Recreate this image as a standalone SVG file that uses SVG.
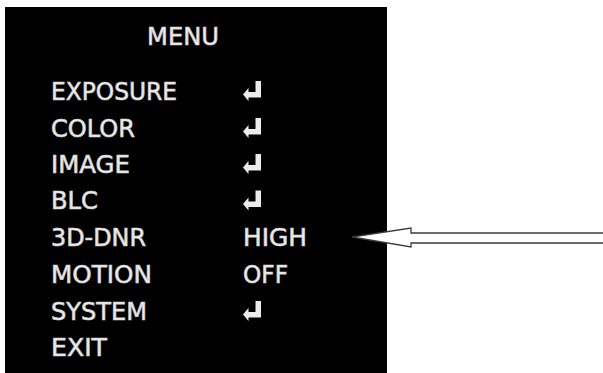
<svg xmlns="http://www.w3.org/2000/svg" width="603" height="373" viewBox="0 0 603 373">
  <style>
    .t { font-family: "DejaVu Sans", Verdana, sans-serif; font-size: 25px; fill: #ececec; stroke: #d0d0d0; stroke-width: 0.7; }
    .ret { fill: #ececec; }
    .arrow { fill: #ffffff; stroke: #3a3a3a; stroke-width: 1.3; stroke-linejoin: miter; }
  </style>
  <defs>
    <path id="enter" class="ret" d="M18 -19 V-2.5 H5.5 V1 L0 -5.5 L5.5 -12 V-8 H12.5 V-19 Z"/>
  </defs>
  <rect x="0" y="0" width="603" height="373" fill="#ffffff"/>
  <g id="screen">
    <rect x="5" y="7" width="382" height="367" fill="#000000"/>
  </g>
  <g id="title"><text class="t" x="183" y="45" text-anchor="middle" textLength="72" lengthAdjust="spacingAndGlyphs">MENU</text></g>
  <g id="exposure"><text class="t" x="51" y="99.5" textLength="126" lengthAdjust="spacingAndGlyphs">EXPOSURE</text><use href="#enter" x="243" y="100"/></g>
  <g id="color"><text class="t" x="51" y="136.5" textLength="84" lengthAdjust="spacingAndGlyphs">COLOR</text><use href="#enter" x="243" y="137"/></g>
  <g id="image"><text class="t" x="51" y="172.5" textLength="79" lengthAdjust="spacingAndGlyphs">IMAGE</text><use href="#enter" x="243" y="173"/></g>
  <g id="blc"><text class="t" x="51" y="209" textLength="47" lengthAdjust="spacingAndGlyphs">BLC</text><use href="#enter" x="243" y="209.5"/></g>
  <g id="dnr"><text class="t" x="51" y="246" textLength="95" lengthAdjust="spacingAndGlyphs">3D-DNR</text><text class="t" x="243" y="246" textLength="64" lengthAdjust="spacingAndGlyphs">HIGH</text></g>
  <g id="motion"><text class="t" x="51" y="282.5" textLength="101" lengthAdjust="spacingAndGlyphs">MOTION</text><text class="t" x="243" y="282.5" textLength="45" lengthAdjust="spacingAndGlyphs">OFF</text></g>
  <g id="system"><text class="t" x="51" y="319.5" textLength="96" lengthAdjust="spacingAndGlyphs">SYSTEM</text><use href="#enter" x="243" y="320"/></g>
  <g id="exit"><text class="t" x="51" y="356" textLength="56" lengthAdjust="spacingAndGlyphs">EXIT</text></g>
  <g id="connectors">
    <polygon class="arrow" points="352,237 411,228 411,233 606,233 606,243 411,243 411,247"/>
  </g>
</svg>
